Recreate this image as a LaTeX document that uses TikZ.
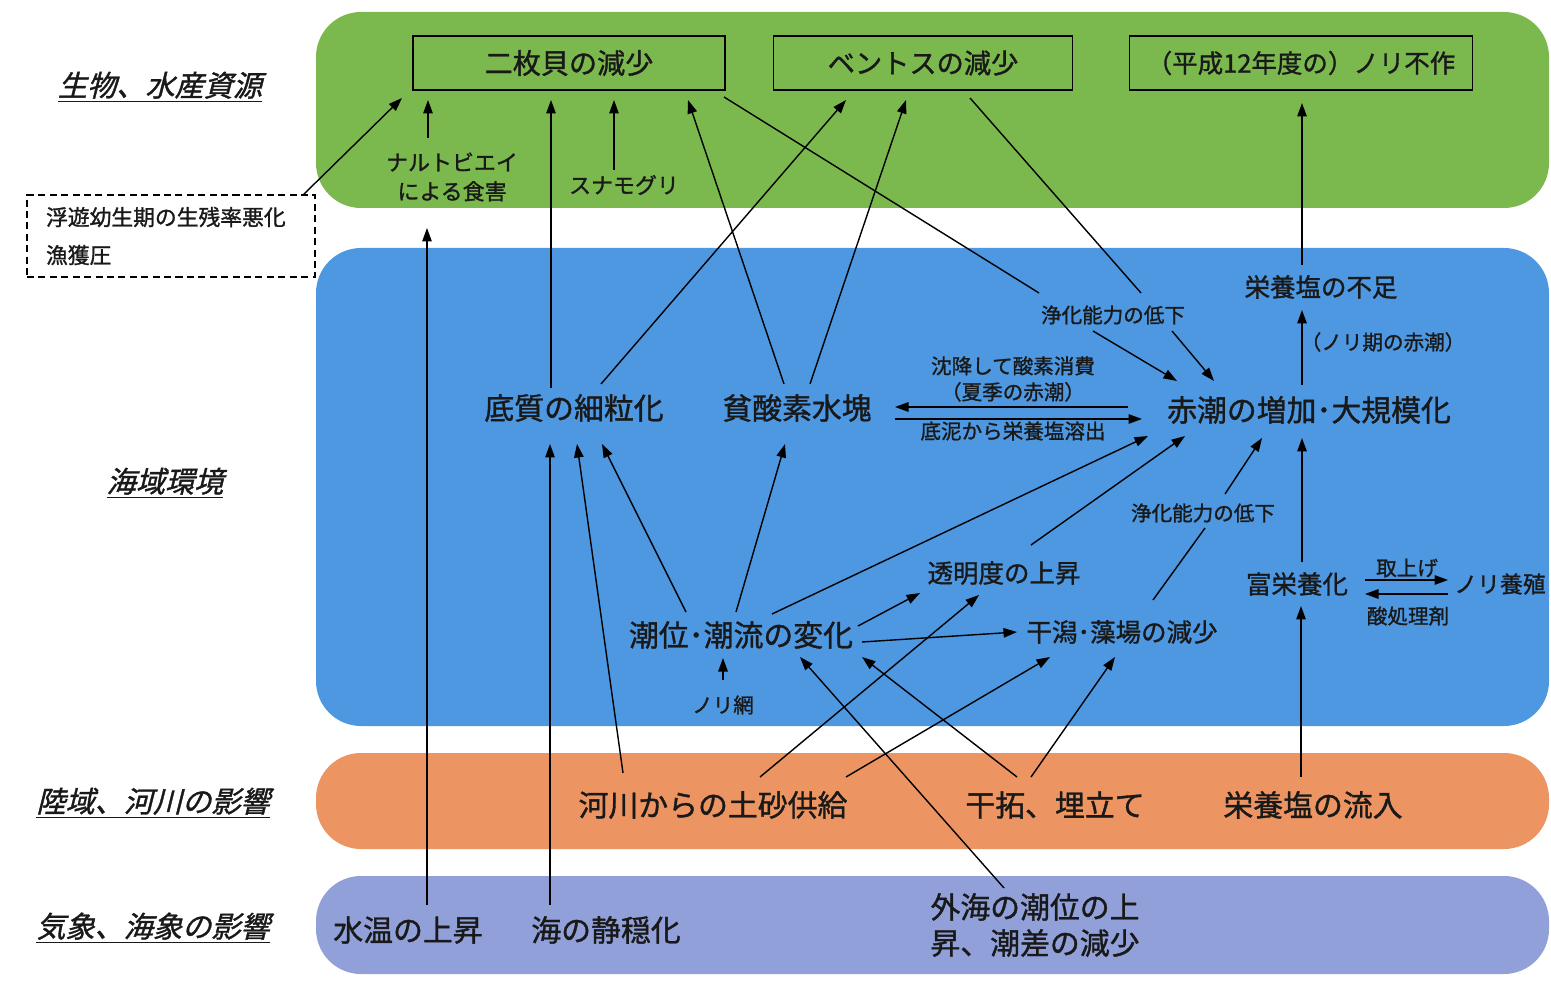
\documentclass[tikz,border=0pt]{standalone}
\usepackage{fontspec}
\setmainfont{Noto Sans CJK JP}[FakeBold=1.2]
\newfontfamily\slantjp{Noto Sans CJK JP}[FakeSlant=0.25,FakeBold=1.2]
\usetikzlibrary{arrows.meta,calc}

\definecolor{bandgreen}{RGB}{123,185,78}
\definecolor{bandblue}{RGB}{78,152,226}
\definecolor{bandorange}{RGB}{236,149,98}
\definecolor{bandlilac}{RGB}{146,160,218}

\begin{document}
\begin{tikzpicture}[x=0.02cm,y=-0.02cm,
    every node/.style={text=black!90},
    hdr/.style={font=\slantjp\fontsize{16.6}{20}\selectfont},
    titlebox/.style={draw,line width=0.8pt,minimum height=1.08cm,inner sep=0pt},
    bigtext/.style={font=\fontsize{17}{20}\selectfont},
    bandtext/.style={font=\fontsize{17}{20.5}\selectfont,align=center},
    midtext/.style={font=\fontsize{14.5}{17}\selectfont},
    smalltext/.style={font=\fontsize{11.7}{14.8}\selectfont,align=center},
    conn/.style={line width=0.8pt,-{Triangle[length=2.7mm,width=1.9mm]}},
    wire/.style={line width=0.8pt}]
  \useasboundingbox (0,0) rectangle (1551,1006);

  % colour bands
  \fill[bandgreen,rounded corners=0.9cm] (316,12) rectangle (1549,208);
  \fill[bandblue,rounded corners=0.9cm] (316,248) rectangle (1549,726);
  \fill[bandorange,rounded corners=0.9cm] (316,753) rectangle (1549,849);
  \fill[bandlilac,rounded corners=0.9cm] (316,876) rectangle (1549,974);

  % row headings
  \node[hdr] (hbio) at (160,87) {\underline{生物、水産資源}};
  \node[hdr] (hsea) at (165,483) {\underline{海域環境}};
  \node[hdr] (hland) at (153,803) {\underline{陸域、河川の影響}};
  \node[hdr] (hweather) at (153,928) {\underline{気象、海象の影響}};

  % living resources
  \node[draw,dash pattern=on 4pt off 2.5pt,line width=0.8pt,minimum width=5.76cm,
    minimum height=1.64cm,text width=5cm,align=left,inner xsep=0.38cm,
    font=\fontsize{12.4}{21.6}\selectfont] (fuyuu) at (171,236)
    {浮遊幼生期の生残率悪化\\漁獲圧};
  \node[titlebox,minimum width=6.24cm,font=\fontsize{16}{19}\selectfont] (nimai) at (569,63) {二枚貝の減少};
  \node[titlebox,minimum width=5.98cm,font=\fontsize{15.5}{19}\selectfont] (bentos) at (923,63) {ベントスの減少};
  \node[titlebox,minimum width=6.86cm,font=\fontsize{14.5}{18}\selectfont] (norifusaku) at (1301,63) {（平成12年度の）ノリ不作};
  \node[font=\fontsize{12.5}{16.5}\selectfont,align=center] (narutobiei) at (452,177) {ナルトビエイ\\による食害};
  \node[font=\fontsize{12.5}{15}\selectfont] (sunamoguri) at (624,185) {スナモグリ};

  % sea area
  \node[bigtext] (sokoshitsu) at (574,408) {底質の細粒化};
  \node[bigtext] (hinsanso) at (797,408) {貧酸素水塊};
  \node[bigtext] (akashio) at (1309,410) {赤潮の増加･大規模化};
  \node[midtext] (fusoku) at (1321,287) {栄養塩の不足};
  \node[smalltext] (jouka1) at (1113,315) {浄化能力の低下};
  \node[smalltext] (norikiakashio) at (1383,342) {（ノリ期の赤潮）};
  \node[smalltext] (chinkou) at (1013,379) {沈降して酸素消費\\（夏季の赤潮）};
  \node[smalltext] (yoshutsu) at (1013,431) {底泥から栄養塩溶出};
  \node[smalltext] (jouka2) at (1203,513) {浄化能力の低下};
  \node[midtext] (toumeido) at (1004,573) {透明度の上昇};
  \node[bigtext] (chouryu) at (741,635) {潮位･潮流の変化};
  \node[midtext] (higata) at (1122,632) {干潟･藻場の減少};
  \node[midtext] (fueiyou) at (1297,584) {富栄養化};
  \node[font=\fontsize{13}{16}\selectfont] (yoshoku) at (1500,584) {ノリ養殖};
  \node[smalltext] (toriage) at (1407,568) {取上げ};
  \node[smalltext] (sanshori) at (1408,616) {酸処理剤};
  \node[smalltext] (noriami) at (723,705) {ノリ網};

  % land and rivers
  \node[bandtext] (kasen) at (713,805) {河川からの土砂供給};
  \node[bandtext] (kantaku) at (1055,805) {干拓、埋立て};
  \node[bandtext] (ryunyu) at (1313,805) {栄養塩の流入};

  % weather and sea
  \node[bandtext] (suion) at (408,930) {水温の上昇};
  \node[bandtext] (seion) at (606,930) {海の静穏化};
  \node[bandtext] (gaikai) at (1035,925) {外海の潮位の上\\昇、潮差の減少};

  % into the top boxes
  \draw[conn] ($(fuyuu)+(132,-41)$) -- ($(nimai)+(-167,35)$);
  \draw[conn] ($(narutobiei)+(-24,-39)$) -- ($(nimai)+(-141,37)$);
  \draw[conn] ($(suion)+(19,-25)$) -- ($(narutobiei)+(-25,51)$);
  \draw[conn] ($(sunamoguri)+(-10,-15)$) -- ($(nimai)+(45,37)$);
  \draw[conn] ($(sokoshitsu)+(-23,-20)$) -- ($(nimai)+(-18,37)$);
  \draw[conn] ($(hinsanso)+(-13,-24)$) -- ($(nimai)+(119,37)$);
  \draw[conn] ($(sokoshitsu)+(27,-24)$) -- ($(bentos)+(-77,37)$);
  \draw[conn] ($(hinsanso)+(13,-24)$) -- ($(bentos)+(-17,37)$);
  \draw[conn] ($(fusoku)+(-19,-22)$) -- ($(norifusaku)+(1,40)$);

  % purification
  \draw[wire] ($(nimai)+(155,34)$) -- ($(jouka1)+(-74,-22)$);
  \draw[wire] ($(bentos)+(47,35)$) -- ($(jouka1)+(28,-22)$);
  \draw[conn] ($(jouka1)+(-20,16)$) -- ($(akashio)+(-132,-29)$);
  \draw[conn] ($(jouka1)+(59,16)$) -- ($(akashio)+(-95,-29)$);

  % red tide
  \draw[conn] ($(akashio)+(-7,-25)$) -- ($(fusoku)+(-19,23)$);
  \draw[conn] ($(akashio)+(-181,-3)$) -- ($(hinsanso)+(98,-1)$);
  \draw[conn] ($(hinsanso)+(98,11)$) -- ($(akashio)+(-167,9)$);
  \draw[conn] ($(fueiyou)+(5,-22)$) -- ($(akashio)+(-7,28)$);
  \draw[conn] ($(ryunyu)+(-12,-28)$) -- ($(fueiyou)+(4,22)$);
  \draw[conn] ($(fueiyou)+(68,-4)$) -- ($(yoshoku)+(-52,-4)$);
  \draw[conn] ($(yoshoku)+(-52,10)$) -- ($(fueiyou)+(68,10)$);

  % tides and currents
  \draw[conn] ($(seion)+(-56,-25)$) -- ($(sokoshitsu)+(-24,36)$);
  \draw[conn] ($(kasen)+(-90,-32)$) -- ($(sokoshitsu)+(3,36)$);
  \draw[conn] ($(chouryu)+(-55,-23)$) -- ($(sokoshitsu)+(28,36)$);
  \draw[conn] ($(chouryu)+(-5,-23)$) -- ($(hinsanso)+(-12,36)$);
  \draw[conn] ($(chouryu)+(31,-21)$) -- ($(akashio)+(-161,26)$);
  \draw[conn] ($(toumeido)+(27,-28)$) -- ($(akashio)+(-124,26)$);
  \draw[conn] ($(chouryu)+(117,-9)$) -- ($(toumeido)+(-84,20)$);
  \draw[conn] ($(chouryu)+(121,7)$) -- ($(higata)+(-105,0)$);
  \draw[conn] ($(noriami)+(0,-25)$) -- ($(chouryu)+(-18,23)$);
  \draw[conn] ($(gaikai)+(-31,-37)$) -- ($(chouryu)+(59,22)$);
  \draw[conn] ($(kantaku)+(-38,-28)$) -- ($(chouryu)+(121,22)$);
  \draw[conn] ($(kasen)+(47,-28)$) -- ($(toumeido)+(-25,22)$);
  \draw[conn] ($(kasen)+(133,-28)$) -- ($(higata)+(-72,25)$);
  \draw[conn] ($(kantaku)+(-24,-28)$) -- ($(higata)+(-7,25)$);
  \draw[wire] ($(higata)+(31,-32)$) -- ($(jouka2)+(2,15)$);
  \draw[conn] ($(jouka2)+(22,-19)$) -- ($(akashio)+(-47,28)$);
\end{tikzpicture}
\end{document}
